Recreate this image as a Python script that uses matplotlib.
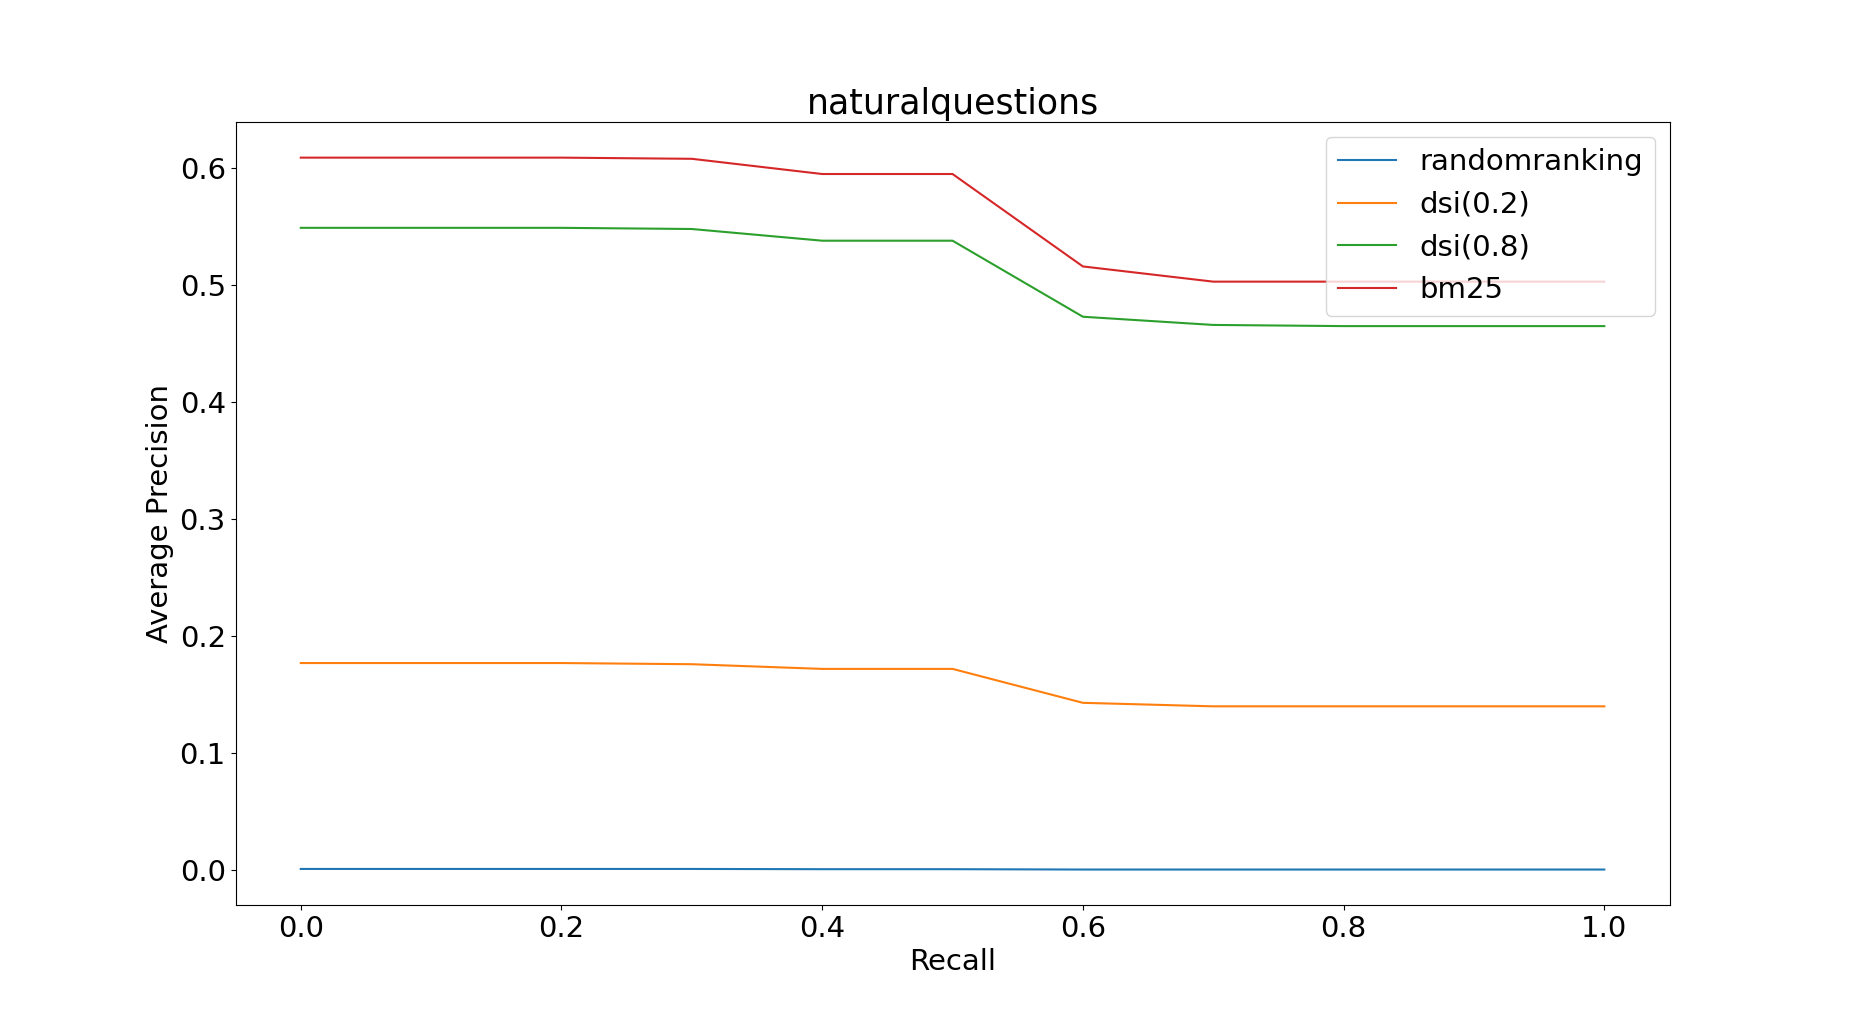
import matplotlib
matplotlib.use('Agg')
import matplotlib.pyplot as plt

recall = [0.0, 0.1, 0.2, 0.3, 0.4, 0.5, 0.6, 0.7, 0.8, 0.9, 1.0]
randomranking = [0.001, 0.001, 0.001, 0.001, 0.0008, 0.0008, 0.0005, 0.0005, 0.0005, 0.0005, 0.0005]
dsi_02 = [0.177, 0.177, 0.177, 0.176, 0.172, 0.172, 0.143, 0.140, 0.140, 0.140, 0.140]
dsi_08 = [0.549, 0.549, 0.549, 0.548, 0.538, 0.538, 0.473, 0.466, 0.465, 0.465, 0.465]
bm25 = [0.609, 0.609, 0.609, 0.608, 0.595, 0.595, 0.516, 0.503, 0.503, 0.503, 0.503]

plt.rcParams['font.size'] = 21
fig, ax = plt.subplots(figsize=(18.55, 10.17), dpi=100)
fig.subplots_adjust(left=0.127, right=0.9, top=0.88, bottom=0.11)
ax.plot(recall, randomranking, label='randomranking')
ax.plot(recall, dsi_02, label='dsi(0.2)')
ax.plot(recall, dsi_08, label='dsi(0.8)')
ax.plot(recall, bm25, label='bm25')
ax.set_title('naturalquestions', fontsize=25)
ax.set_xlabel('Recall')
ax.set_ylabel('Average Precision')
ax.legend(loc='upper right')
fig.savefig('out.png')
